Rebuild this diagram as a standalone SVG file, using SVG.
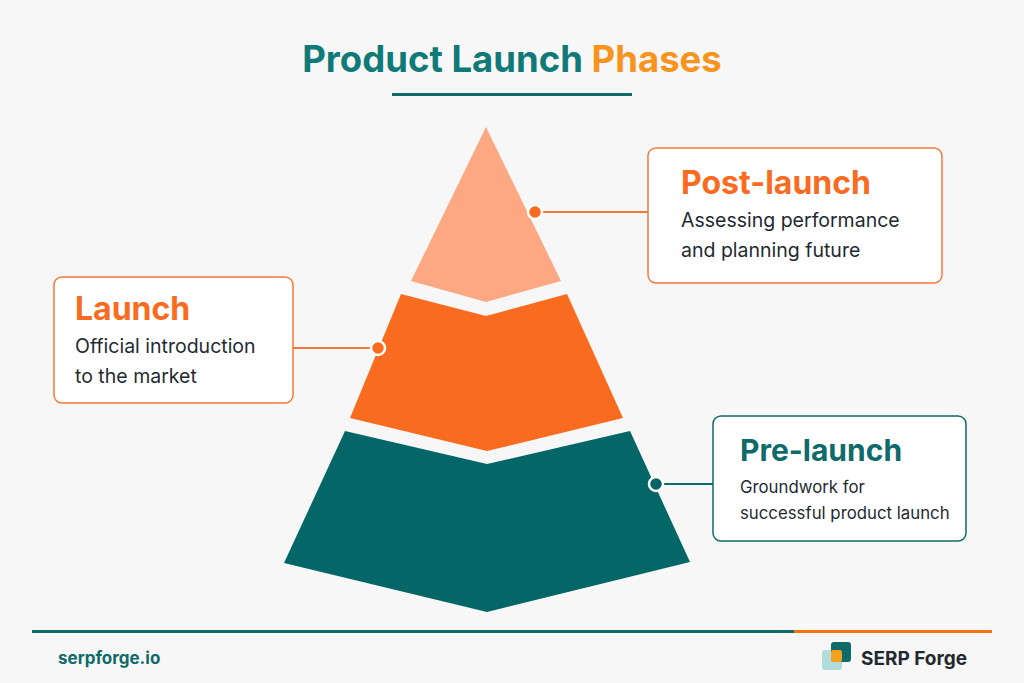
<svg xmlns="http://www.w3.org/2000/svg" width="1024" height="683" viewBox="0 0 1024 683">
<style>
.t{font-family:Inter,"Noto Sans",sans-serif;font-weight:700}
.h{font-family:Inter,"Noto Sans",sans-serif;font-weight:700;font-size:32px}
.d{font-family:Inter,"Noto Sans",sans-serif;font-size:19.5px;fill:#1f2a30}
.bo{fill:#fff;stroke:#f47a3a;stroke-width:1.5}
.bt{fill:#fff;stroke:#0f6a6a;stroke-width:1.5}
</style>
<rect width="1024" height="683" fill="#f7f7f7"/>
<text x="512" y="72" text-anchor="middle" class="t" font-size="36.5"><tspan fill="#0f7a78">Product Launch </tspan><tspan fill="#f7941d">Phases</tspan></text>
<rect x="392" y="93" width="240" height="3" fill="#0f6a6a"/>
<g id="pyramid">
<polygon points="486,127 561,281 486,302 411,281" fill="#fca882"/>
<polygon points="401,294 486,316 567,294 623,418 487,451 350,418" fill="#f96b1e"/>
<polygon points="345,431 487,464 630,431 690,562 487,612 284,563" fill="#046666"/>
</g>
<g id="connectors">
<line x1="535" y1="212" x2="648" y2="212" stroke="#f47a3a" stroke-width="2"/>
<line x1="293" y1="348" x2="378" y2="348" stroke="#f47a3a" stroke-width="2"/>
<line x1="656" y1="484" x2="713" y2="484" stroke="#0f6a6a" stroke-width="2"/>
<circle cx="535" cy="212" r="7" fill="#f96b1e" stroke="#fff" stroke-width="2.5"/>
<circle cx="378" cy="348" r="7" fill="#f96b1e" stroke="#fff" stroke-width="2.5"/>
<circle cx="656" cy="484" r="7" fill="#046666" stroke="#fff" stroke-width="2.5"/>
</g>
<g id="post-launch">
<rect x="648" y="148" width="294" height="135" rx="8" class="bo"/>
<text x="681" y="194" class="h" fill="#f96b1e">Post-launch</text>
<text x="681" y="227" class="d">Assessing performance</text>
<text x="681" y="257" class="d">and planning future</text>
</g>
<g id="launch">
<rect x="54" y="277" width="239" height="126" rx="8" class="bo"/>
<text x="75" y="320" class="h" fill="#f96b1e">Launch</text>
<text x="75" y="353" class="d">Official introduction</text>
<text x="75" y="383" class="d">to the market</text>
</g>
<g id="pre-launch">
<rect x="713" y="416" width="253" height="125" rx="8" class="bt"/>
<text x="740" y="461" class="h" fill="#0f6a6a" style="font-size:30px">Pre-launch</text>
<text x="740" y="493" class="d" style="font-size:16.8px">Groundwork for</text>
<text x="740" y="519" class="d" style="font-size:16.8px">successful product launch</text>
</g>
<rect x="32" y="630" width="762" height="3" fill="#0f6a6a"/>
<rect x="794" y="630" width="198" height="3" fill="#f97316"/>
<text x="58" y="664" class="t" font-size="17" fill="#0f6a6a">serpforge.io</text>
<g id="logo">
<rect x="822" y="650" width="20" height="20" rx="3" fill="#b3dcdc"/>
<rect x="831" y="642" width="20" height="20" rx="3" fill="#0f6a6a"/>
<rect x="831" y="650" width="11" height="12" rx="2" fill="#f7a01d"/>
<text x="861" y="665" class="t" font-size="19" fill="#1f2a30">SERP Forge</text>
</g>
</svg>
